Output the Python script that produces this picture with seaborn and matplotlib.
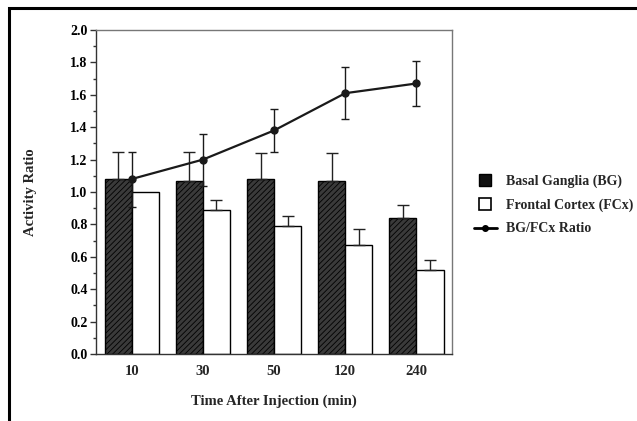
import matplotlib
matplotlib.use("Agg")
import matplotlib.pyplot as plt
import seaborn as sns
import numpy as np
import pandas as pd
from matplotlib.patches import Rectangle
from matplotlib.lines import Line2D
from matplotlib.ticker import MultipleLocator

times = ["10", "30", "50", "120", "240"]
bg_vals = [1.08, 1.07, 1.08, 1.07, 0.84]
bg_err = [0.17, 0.18, 0.16, 0.17, 0.08]
fcx_vals = [1.00, 0.89, 0.79, 0.67, 0.52]
fcx_err = [0.00, 0.06, 0.06, 0.10, 0.06]
ratio_vals = [1.08, 1.20, 1.38, 1.61, 1.67]
ratio_err = [0.17, 0.16, 0.13, 0.16, 0.14]
series = ["Basal Ganglia (BG)", "Frontal Cortex (FCx)"]

sns.set_theme(style="white")
plt.rcParams["font.family"] = ["Liberation Serif", "DejaVu Serif"]
plt.rcParams["hatch.color"] = "#9a9a9a"
plt.rcParams["hatch.linewidth"] = 0.6

df = pd.DataFrame({
    "time": times * 2,
    "value": bg_vals + fcx_vals,
    "series": [series[0]] * 5 + [series[1]] * 5,
})

fig = plt.figure(figsize=(6.37, 4.21), dpi=100)
ax = fig.add_axes([0.1507, 0.1591, 0.559, 0.7696])

sns.barplot(data=df, x="time", y="value", hue="series", order=times,
            hue_order=series, palette=["#3a3a3a", "white"], errorbar=None,
            width=0.76, edgecolor="black", linewidth=1.0, ax=ax, legend=False)

bars = ax.patches
for i, p in enumerate(bars[:5]):
    p.set_hatch("//////")
    cx = p.get_x() + p.get_width() / 2
    ax.errorbar(cx, bg_vals[i], yerr=[[0], [bg_err[i]]], fmt="none",
                ecolor="#222222", elinewidth=1.0, capsize=4, capthick=1.0, zorder=3)
for i, p in enumerate(bars[5:10]):
    if fcx_err[i] > 0:
        cx = p.get_x() + p.get_width() / 2
        ax.errorbar(cx, fcx_vals[i], yerr=[[0], [fcx_err[i]]], fmt="none",
                    ecolor="#222222", elinewidth=1.0, capsize=4, capthick=1.0, zorder=3)

xpos = np.arange(len(times))
ax.errorbar(xpos, ratio_vals, yerr=ratio_err, fmt="-o", color="#1a1a1a",
            linewidth=1.6, markersize=5, elinewidth=1.0, capsize=3,
            capthick=1.0, zorder=4)

ax.set_xlim(-0.5, 4.5)
ax.set_ylim(0, 2.0)
ax.yaxis.set_major_locator(MultipleLocator(0.2))
ax.yaxis.set_minor_locator(MultipleLocator(0.1))
ax.set_yticklabels([f"{v:.1f}" for v in ax.get_yticks()])
ax.tick_params(axis="y", which="major", direction="out", length=4, width=1,
               labelsize=10, pad=2, left=True, colors="#333333", labelcolor="black")
ax.tick_params(axis="y", which="minor", direction="out", length=2, width=1,
               left=True, colors="#333333")
ax.tick_params(axis="x", length=0, labelsize=10.5, pad=8)
for lab in ax.get_yticklabels() + ax.get_xticklabels():
    lab.set_fontweight("bold")
for s in ax.spines.values():
    s.set_color("#777777")
    s.set_linewidth(1.0)
ax.spines["left"].set_color("#333333")
ax.spines["bottom"].set_color("#333333")

ax.set_xlabel("Time After Injection (min)", fontsize=10.5, fontweight="bold", labelpad=12)
ax.set_ylabel("Activity Ratio", fontsize=10.5, fontweight="bold", labelpad=24)

handles = [
    Line2D([0], [0], marker="s", linestyle="none", markersize=8,
           markerfacecolor="#111111", markeredgecolor="black"),
    Line2D([0], [0], marker="s", linestyle="none", markersize=8,
           markerfacecolor="white", markeredgecolor="black", markeredgewidth=1.2),
    Line2D([0], [0], marker="o", color="black", linewidth=2, markersize=4),
]
labels = [series[0], series[1], "BG/FCx Ratio"]
leg = fig.legend(handles, labels, loc="upper left", bbox_to_anchor=(0.725, 0.615),
                 frameon=False, handlelength=1.6, handletextpad=0.7,
                 labelspacing=0.75, prop={"weight": "bold", "size": 10})

fig.patches.append(Rectangle((9 / 637, -0.05), 1.2, 1 - 8 / 421 + 0.05,
                             transform=fig.transFigure, fill=False,
                             edgecolor="black", linewidth=2.2, zorder=0))

fig.savefig("out.png", dpi=100)
